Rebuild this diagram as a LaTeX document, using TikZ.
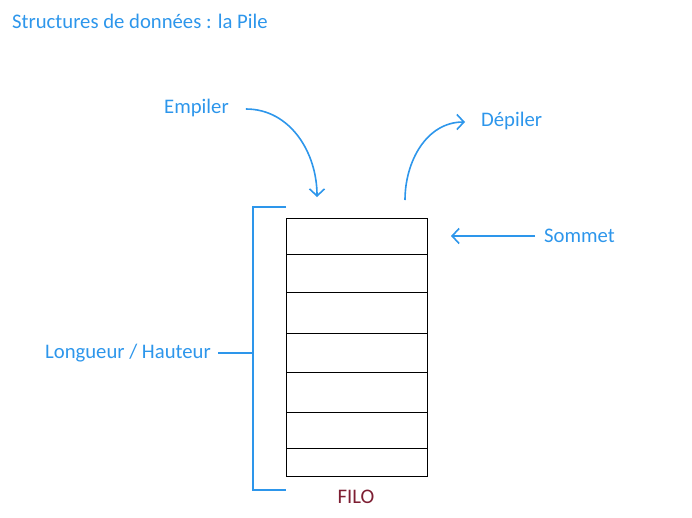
\documentclass[tikz,border=0pt]{standalone}
\usepackage{fontspec}
\setmainfont{Carlito}
\usetikzlibrary{arrows.meta}
\definecolor{bleu}{RGB}{45,150,235}
\definecolor{rouge}{RGB}{125,30,50}
\begin{document}
\begin{tikzpicture}[x=1pt,y=-1pt, every node/.style={inner sep=0pt},
    lbl/.style={text=bleu,font=\fontsize{20.7}{24}\selectfont},
    fl/.style={draw=bleu,line width=1.6pt,-{Straight Barb[length=7pt,width=15pt]}},
    cell/.style={draw,line width=1.2pt,minimum width=141pt,anchor=north west}]
  \useasboundingbox (0,0) rectangle (692,517);
  \node [lbl,anchor=west] (titre) at (12,21) {Structures de données : la Pile};
  \node [lbl,anchor=west] (emp) at (164,108) {Empiler};
  \node [lbl,anchor=west] (dep) at (481,121) {Dépiler};
  \node [lbl,anchor=west] (som) at (544,236) {Sommet};
  \node [lbl,anchor=east] (lon) at (211,353) {Longueur / Hauteur};
  \node [text=rouge,font=\fontsize{20.7}{24}\selectfont] (filo) at (356,497) {FILO};
    \node [cell,minimum height=36pt] (c1) at (286,218) {};
    \node [cell,minimum height=38pt] (c2) at (286,254) {};
    \node [cell,minimum height=41pt] (c3) at (286,292) {};
    \node [cell,minimum height=39pt] (c4) at (286,333) {};
    \node [cell,minimum height=40pt] (c5) at (286,372) {};
    \node [cell,minimum height=36pt] (c6) at (286,412) {};
    \node [cell,minimum height=28pt] (c7) at (286,448) {};
  \coordinate (in) at (317,197);
  \coordinate (out) at (405,200);
  \coordinate (pointe) at (465,122);
  \coordinate (haut) at (286,207);
  \coordinate (bas) at (286,490);
  \coordinate (sommet) at (451,236);
    \draw [fl] (emp.east) ++(17,1) to[out=0,in=90] (in);
    \draw [fl] (out) to[out=90,in=180] (pointe);
    \draw [fl] (som.west) ++(-9,0) -- (sommet);
  \draw [draw=bleu,line width=1.6pt] (haut) -- ++(-33,0) |- (bas);
  \draw [draw=bleu,line width=1.6pt] (lon.east) ++(7,0) -- ++(35,0);
\end{tikzpicture}
\end{document}
